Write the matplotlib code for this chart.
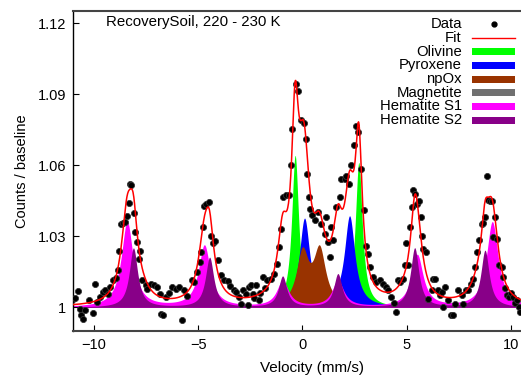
import numpy as np
import matplotlib.pyplot as plt
from matplotlib.patches import Rectangle
from matplotlib.lines import Line2D

plt.rcParams['font.family'] = ['Liberation Sans', 'DejaVu Sans']

vel = [-11.04, -10.88, -10.75, -10.67, -10.59, -10.53, -10.43, -10.24, -10.05, -9.95,
       -9.84, -9.68, -9.57, -9.44, -9.31, -9.20, -9.09, -8.96, -8.83, -8.77,
       -8.69, -8.61, -8.51, -8.40, -8.32, -8.27, -8.21, -8.09, -8.01, -7.92,
       -7.84, -7.77, -7.68, -7.52, -7.44, -7.28, -7.12, -6.96, -6.84, -6.76,
       -6.67, -6.55, -6.40, -6.23, -6.07, -5.91, -5.78, -5.67, -5.51, -5.30,
       -5.19, -5.03, -4.90, -4.84, -4.79, -4.71, -4.60, -4.47, -4.38, -4.31,
       -4.18, -4.07, -3.91, -3.75, -3.59, -3.45, -3.29, -3.19, -3.05, -2.96,
       -2.84, -2.72, -2.62, -2.55, -2.48, -2.39, -2.30, -2.23, -2.10, -2.02,
       -1.90, -1.78, -1.68, -1.52, -1.36, -1.24, -1.12, -1.04, -0.91, -0.80,
       -0.64, -0.56, -0.48, -0.32, -0.21, -0.08, 0.08, 0.16, 0.23, 0.30,
       0.38, 0.46, 0.58, 0.74, 0.90, 1.06, 1.14, 1.22, 1.30, 1.38,
       1.46, 1.62, 1.78, 1.86, 2.02, 2.10, 2.22, 2.34, 2.47, 2.58,
       2.66, 2.82, 2.95, 3.06, 3.14, 3.22, 3.38, 3.54, 3.70, 3.86,
       4.02, 4.09, 4.26, 4.40, 4.47, 4.57, 4.66, 4.82, 4.90, 4.98,
       5.05, 5.14, 5.23, 5.32, 5.38, 5.50, 5.58, 5.66, 5.72, 5.80,
       5.90, 6.03, 6.19, 6.27, 6.33, 6.49, 6.59, 6.67, 6.75, 6.85,
       6.99, 7.13, 7.23, 7.30, 7.47, 7.63, 7.71, 7.85, 7.95, 8.08,
       8.19, 8.27, 8.36, 8.48, 8.59, 8.66, 8.74, 8.83, 8.91, 9.00,
       9.07, 9.13, 9.22, 9.31, 9.44, 9.55, 9.63, 9.72, 9.79, 9.92,
       10.02, 10.11, 10.20, 10.28, 10.36, 10.43]
counts = [1.0032, 1.0041, 1.0069, 0.9995, 0.9966, 0.9952, 0.9987, 1.0030, 0.9976, 1.0097,
          1.0022, 1.0043, 1.0065, 1.0072, 1.0058, 1.0086, 1.0114, 1.0125, 1.0156, 1.0238,
          1.0350, 1.0357, 1.0360, 1.0384, 1.0440, 1.0520, 1.0515, 1.0400, 1.0320, 1.0276,
          1.0205, 1.0240, 1.0117, 1.0093, 1.0079, 1.0100, 1.0093, 1.0086, 1.0058, 0.9970,
          0.9966, 1.0043, 1.0060, 1.0086, 1.0079, 1.0086, 0.9948, 1.0072, 1.0046, 1.0117,
          1.0107, 1.0149, 1.0190, 1.0233, 1.0340, 1.0430, 1.0437, 1.0444, 1.0300, 1.0270,
          1.0280, 1.0200, 1.0135, 1.0114, 1.0110, 1.0090, 1.0072, 1.0065, 1.0043, 1.0016,
          1.0072, 1.0058, 1.0008, 1.0086, 1.0093, 1.0058, 1.0040, 1.0093, 1.0030, 1.0060,
          1.0128, 1.0080, 1.0114, 1.0120, 1.0142, 1.0184, 1.0254, 1.0330, 1.0465, 1.0473,
          1.0473, 1.0600, 1.0754, 1.0944, 1.0916, 1.0790, 1.0780, 1.0710, 1.0564, 1.0465,
          1.0416, 1.0390, 1.0367, 1.0402, 1.0353, 1.0310, 1.0380, 1.0276, 1.0212, 1.0339,
          1.0283, 1.0423, 1.0465, 1.0543, 1.0543, 1.0557, 1.0520, 1.0600, 1.0684, 1.0768,
          1.0740, 1.0585, 1.0410, 1.0260, 1.0227, 1.0170, 1.0128, 1.0107, 1.0114, 1.0097,
          1.0086, 1.0072, 1.0043, 1.0018, 0.9980, 1.0114, 1.0107, 1.0120, 1.0177, 1.0270,
          1.0177, 1.0340, 1.0423, 1.0497, 1.0480, 1.0437, 1.0450, 1.0380, 1.0300, 1.0248,
          1.0233, 1.0037, 1.0072, 1.0120, 1.0120, 1.0072, 1.0050, 1.0065, 1.0001, 1.0086,
          1.0030, 0.9966, 0.9966, 1.0016, 1.0072, 1.0050, 1.0016, 1.0072, 1.0072, 1.0100,
          1.0120, 1.0170, 1.0233, 1.0286, 1.0353, 1.0356, 1.0380, 1.0553, 1.0454, 1.0450,
          1.0450, 1.0297, 1.0380, 1.0290, 1.0177, 1.0170, 1.0128, 1.0080, 1.0050, 1.0043,
          1.0060, 1.0043, 1.0020, 1.0030, 1.0001, 0.9980]

# fitted sub-spectra: line positions (mm/s), heights above baseline, half widths
olivine_pos = [-0.35, 2.70]
olivine_amp = [0.064, 0.061]
olivine_hw = 0.20

pyroxene_pos = [0.10, 2.26]
pyroxene_amp = [0.037, 0.038]
pyroxene_hw = 0.30

npox_pos = [0.00, 0.82]
npox_amp = [0.022, 0.023]
npox_hw = 0.35

magnetite_pos = [-7.7, -4.2, -0.8, 1.3, 4.9, 8.4]
magnetite_amp = [0.003, 0.002, 0.0015, 0.0015, 0.002, 0.004]
magnetite_hw = 0.45

hem1_pos = [-8.40, -4.70, -0.95, 1.70, 5.50, 9.10]
hem1_amp = [0.036, 0.026, 0.011, 0.011, 0.022, 0.036]
hem1_hw = 0.34

hem2_pos = [-8.10, -4.45, -0.95, 1.70, 5.38, 8.75]
hem2_amp = [0.025, 0.021, 0.013, 0.014, 0.025, 0.024]
hem2_hw = 0.24

names = ['Olivine', 'Pyroxene', 'npOx', 'Magnetite', 'Hematite S1', 'Hematite S2']
colors = ['#00ff00', '#0000ff', '#993300', '#707070', '#ff00ff', '#880088']


def lorentz_sum(v, pos, amp, hw):
    out = np.zeros_like(v)
    for p, a in zip(pos, amp):
        out += a / (1.0 + ((v - p) / hw) ** 2)
    return out


v = np.linspace(-11, 11, 1200)
comps = [lorentz_sum(v, olivine_pos, olivine_amp, olivine_hw),
         lorentz_sum(v, pyroxene_pos, pyroxene_amp, pyroxene_hw),
         lorentz_sum(v, npox_pos, npox_amp, npox_hw),
         lorentz_sum(v, magnetite_pos, magnetite_amp, magnetite_hw),
         lorentz_sum(v, hem1_pos, hem1_amp, hem1_hw),
         lorentz_sum(v, hem2_pos, hem2_amp, hem2_hw)]
fit = 1.0 + np.sum(comps, axis=0)

fig = plt.figure(figsize=(5.21, 3.76), dpi=100)
# the right edge of the frame runs past the picture, as in the original
ax = fig.add_axes([0.140, 0.1197, 0.881, 0.851])

for c, col in zip(comps, colors):
    ax.fill_between(v, 1.0, 1.0 + c, color=col, lw=0)

ax.plot(vel, counts, 'o', ms=4.4, color='black', mec='#333333', mew=0.6, zorder=3)
ax.plot(v, fit, color='red', lw=1.1, zorder=4)

ax.set_xlim(-11, 11)
ax.set_ylim(0.99, 1.1252)
ax.set_xticks([-10, -5, 0, 5, 10])
ax.set_yticks([1.0, 1.03, 1.06, 1.09, 1.12])
ax.set_yticklabels(['1', '1.03', '1.06', '1.09', '1.12'])
ax.tick_params(direction='in', length=4, width=0.8, labelsize=10.5, pad=5)
ax.set_xlabel('Velocity (mm/s)', fontsize=11)
ax.xaxis.set_label_coords(0.52, -0.095)
ax.set_ylabel('Counts / baseline', fontsize=10.5, labelpad=6)
for s in ['top', 'bottom']:
    ax.spines[s].set_color('#444444')
    ax.spines[s].set_linewidth(1.5)
ax.spines['left'].set_linewidth(1.0)

ax.text(0.072, 0.966, 'RecoverySoil, 220 - 230 K', transform=ax.transAxes,
        fontsize=10.8, va='center', ha='left')

# legend, gnuplot style: labels right-aligned, samples to the right
rows = [0.959 - 0.0429 * i for i in range(8)]
labels = ['Data', 'Fit'] + names
for y, lab in zip(rows, labels):
    ax.text(0.8475, y, lab, transform=ax.transAxes, fontsize=10.7,
            ha='right', va='center')
ax.add_line(Line2D([0.917], [rows[0]], marker='o', ms=3.5, color='black',
                   transform=ax.transAxes))
ax.add_line(Line2D([0.869, 0.963], [rows[1], rows[1]], color='red', lw=1.0,
                   transform=ax.transAxes))
for y, col in zip(rows[2:], colors):
    ax.add_patch(Rectangle((0.869, y - 0.011), 0.094, 0.022, color=col,
                           transform=ax.transAxes, lw=0))

fig.savefig('out.png', dpi=100)
